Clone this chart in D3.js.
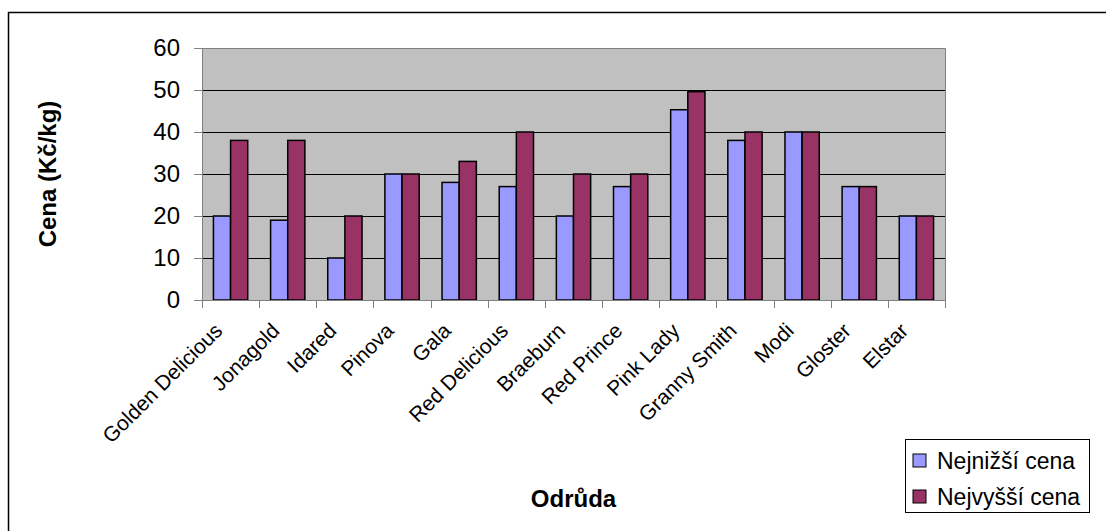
<!DOCTYPE html>
<html lang="cs">
<head>
<meta charset="UTF-8">
<title>Cena jablek</title>
<script src="https://cdn.jsdelivr.net/npm/d3@7"></script>
<style>
  body { margin: 0; background: #fff; }
  svg { display: block; font-family: "Liberation Sans", Arial, sans-serif; }
</style>
</head>
<body>
<svg id="chart" width="1106" height="531"></svg>
<script>
const varieties = ["Golden Delicious", "Jonagold", "Idared", "Pinova", "Gala", "Red Delicious",
  "Braeburn", "Red Prince", "Pink Lady", "Granny Smith", "Modi", "Gloster", "Elstar"];
const minPrice = [20, 19, 10, 30, 28, 27, 20, 27, 45.3, 38, 40, 27, 20];
const maxPrice = [38, 38, 20, 30, 33, 40, 30, 30, 49.6, 40, 40, 27, 20];
const seriesNames = ["Nejnižší cena", "Nejvyšší cena"];
const yTicks = [0, 10, 20, 30, 40, 50, 60];

const colors = ["#9999ff", "#993366"];
const width = 1106, height = 531;
const plot = { left: 202, right: 945, top: 48, bottom: 300 };

const svg = d3.select("#chart");

// outer frame
svg.append("rect")
   .attr("x", 8.5).attr("y", 12.5)
   .attr("width", 1110).attr("height", 540)
   .attr("fill", "#fff").attr("stroke", "#000").attr("stroke-width", 1.5);

const x = d3.scaleBand()
  .domain(varieties)
  .range([plot.left, plot.right])
  .paddingInner(0.4)
  .paddingOuter(0.2);

const xSub = d3.scaleBand()
  .domain([0, 1])
  .range([0, x.bandwidth()]);

const y = d3.scaleLinear().domain([0, 60]).range([plot.bottom, plot.top]);

// plot background
svg.append("rect")
   .attr("x", plot.left).attr("y", plot.top)
   .attr("width", plot.right - plot.left).attr("height", plot.bottom - plot.top)
   .attr("fill", "#c0c0c0");

// gridlines
svg.append("g")
   .selectAll("line")
   .data(yTicks.filter(d => d > 0 && d < 60))
   .join("line")
   .attr("x1", plot.left).attr("x2", plot.right)
   .attr("y1", d => Math.round(y(d)) + 0.5).attr("y2", d => Math.round(y(d)) + 0.5)
   .attr("stroke", "#000");

// top and right border of plot area
svg.append("path")
   .attr("d", `M${plot.left},${plot.top + 0.5}H${plot.right + 0.5}V${plot.bottom}`)
   .attr("fill", "none").attr("stroke", "#808080");

// bars
const rows = varieties.map((v, i) => ({ name: v, values: [minPrice[i], maxPrice[i]] }));
svg.append("g")
   .selectAll("g")
   .data(rows)
   .join("g")
   .attr("transform", d => `translate(${x(d.name)},0)`)
   .selectAll("rect")
   .data(d => d.values.map((v, k) => ({ k, v })))
   .join("rect")
   .attr("x", d => xSub(d.k))
   .attr("y", d => y(d.v))
   .attr("width", xSub.bandwidth())
   .attr("height", d => y(0) - y(d.v))
   .attr("fill", d => colors[d.k])
   .attr("stroke", "#000")
   .attr("stroke-width", 1.5);

// y axis
const yAxis = svg.append("g")
   .attr("transform", `translate(${plot.left},0)`)
   .call(d3.axisLeft(y).tickValues(yTicks).tickSize(8).tickPadding(14));
yAxis.select(".domain").attr("stroke", "#808080");
yAxis.selectAll(".tick line").attr("stroke", "#808080");
yAxis.selectAll(".tick text")
   .attr("font-size", 24).attr("fill", "#000")
   .style("font-family", "'Liberation Sans', Arial, sans-serif");

// x axis (ticks at category boundaries)
const xAxisG = svg.append("g").attr("transform", `translate(0,${plot.bottom})`);
xAxisG.append("line")
   .attr("x1", plot.left).attr("x2", plot.right + 0.5)
   .attr("y1", 0.5).attr("y2", 0.5)
   .attr("stroke", "#808080");
const step = x.step();
const bounds = d3.range(varieties.length + 1).map(i => plot.left + i * step);
xAxisG.selectAll(".bt")
   .data(bounds)
   .join("line")
   .attr("class", "bt")
   .attr("x1", d => Math.round(d) + 0.5).attr("x2", d => Math.round(d) + 0.5)
   .attr("y1", 0).attr("y2", 8)
   .attr("stroke", "#808080");

xAxisG.selectAll(".lbl")
   .data(varieties)
   .join("text")
   .attr("class", "lbl")
   .attr("text-anchor", "end")
   .attr("font-size", 21)
   .attr("transform", d => `translate(${x(d) + x.bandwidth() / 2 - 7},32) rotate(-45)`)
   .text(d => d);

// axis titles
svg.append("text")
   .attr("transform", `translate(56,${(plot.top + plot.bottom) / 2}) rotate(-90)`)
   .attr("text-anchor", "middle")
   .attr("font-size", 24).attr("font-weight", "bold")
   .text("Cena (Kč/kg)");

svg.append("text")
   .attr("x", (plot.left + plot.right) / 2).attr("y", 507)
   .attr("text-anchor", "middle")
   .attr("font-size", 24).attr("font-weight", "bold")
   .text("Odrůda");

// legend
const legend = svg.append("g").attr("transform", "translate(905,439)");
legend.append("rect")
   .attr("x", 0.5).attr("y", 0.5).attr("width", 184).attr("height", 73)
   .attr("fill", "#fff").attr("stroke", "#000");
const items = legend.selectAll(".item")
   .data(seriesNames)
   .join("g")
   .attr("class", "item")
   .attr("transform", (d, i) => `translate(0,${22 + i * 36})`);
items.append("rect")
   .attr("x", 8).attr("y", -7).attr("width", 13).attr("height", 13)
   .attr("fill", (d, i) => colors[i]).attr("stroke", "#000");
items.append("text")
   .attr("x", 32).attr("y", 0).attr("dy", "0.35em")
   .attr("font-size", 23)
   .text(d => d);
</script>
</body>
</html>
